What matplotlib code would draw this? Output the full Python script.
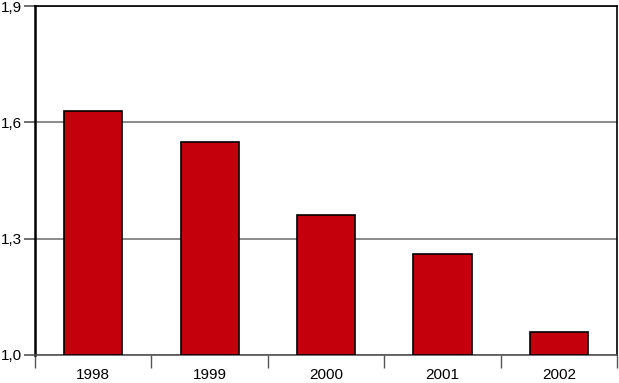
import matplotlib.pyplot as plt
import numpy as np

years = ['1998', '1999', '2000', '2001', '2002']
values = [1.63, 1.55, 1.36, 1.26, 1.06]
yticks = [1.0, 1.3, 1.6, 1.9]
ytick_labels = ['1,0', '1,3', '1,6', '1,9']

plt.rcParams['font.family'] = ['Liberation Sans', 'DejaVu Sans']

fig = plt.figure(figsize=(6.19, 3.83), dpi=100)
ax = fig.add_axes([35 / 619, 28 / 383, 582 / 619, 349 / 383])

x = np.arange(len(years))
ax.bar(x, np.array(values) - 1.0, bottom=1.0, width=0.5,
       color='#c3000b', edgecolor='black', linewidth=1.2, zorder=3)

ax.set_xlim(-0.5, len(years) - 0.5)
ax.set_ylim(1.0, 1.9)

ax.set_yticks(yticks)
ax.set_yticklabels(ytick_labels, fontsize=11)
ax.yaxis.grid(True, color='#777777', linewidth=1.2, zorder=0)

ax.set_xticks(x)
ax.set_xticklabels(years, fontsize=11)
ax.tick_params(axis='x', which='major', length=0, pad=9.6)
ax.set_xticks(np.arange(-0.5, len(years)), minor=True)
ax.tick_params(axis='x', which='minor', length=9, color='#555555', width=1)
ax.tick_params(axis='y', length=8, width=1.2, color='#555555', pad=1.5)

ax.spines['left'].set_linewidth(1.8)
ax.spines['top'].set_linewidth(1.2)
ax.spines['right'].set_linewidth(1.2)
ax.spines['bottom'].set_color('#555555')
ax.spines['bottom'].set_linewidth(1.2)

fig.savefig('out.png', dpi=100)
